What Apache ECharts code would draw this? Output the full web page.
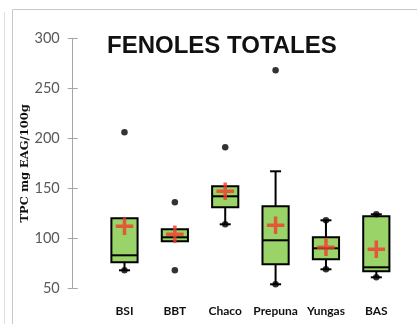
<!DOCTYPE html>
<html>
<head>
<meta charset="utf-8">
<script src="https://cdn.jsdelivr.net/npm/echarts@6/dist/echarts.min.js"></script>
<style>
  html, body { margin: 0; padding: 0; background: #fff; }
  #chart { width: 417px; height: 324px; }
</style>
</head>
<body>
<div id="chart"></div>
<script>
// Total phenolics (TPC, mg EAG/100g) per region
const categories   = ['BSI', 'BBT', 'Chaco', 'Prepuna', 'Yungas', 'BAS'];
const whiskerLow   = [68, 97, 114, 54, 69, 61];
const q1           = [76, 97, 131, 74, 79, 67];
const median       = [83, 101, 142, 98, 90, 71];
const q3           = [120, 109, 152, 132, 101, 122];
const whiskerHigh  = [120, 109, 152, 167, 118, 124];
const meanValues   = [112, 104, 147, 113, 91, 89];
const minValues    = [68, 68, 114, 54, 69, 61];
const maxValues    = [206, 136, 191, 268, 118, 124];
const yTicks       = [50, 100, 150, 200, 250, 300];

const boxData = categories.map((c, i) => [i, whiskerLow[i], q1[i], median[i], q3[i], whiskerHigh[i]]);
const meanData = categories.map((c, i) => [i, meanValues[i]]);
const extremeData = [];
categories.forEach((c, i) => {
  extremeData.push([i, minValues[i]]);
  extremeData.push([i, maxValues[i]]);
});

function renderBox(params, api) {
  const x = api.value(0);
  const pLow = api.coord([x, api.value(1)]);
  const pQ1 = api.coord([x, api.value(2)]);
  const pMed = api.coord([x, api.value(3)]);
  const pQ3 = api.coord([x, api.value(4)]);
  const pHigh = api.coord([x, api.value(5)]);
  const bw = api.size([1, 0])[0] * 0.52;
  const cx = pMed[0];
  const half = bw / 2;
  const cap = 5.5;
  const stroke = { stroke: '#000', lineWidth: 2 };
  const children = [];
  if (pLow[1] - pQ1[1] > 0.5) {
    children.push({ type: 'line', shape: { x1: cx, y1: pQ1[1], x2: cx, y2: pLow[1] }, style: stroke });
    children.push({ type: 'line', shape: { x1: cx - cap, y1: pLow[1], x2: cx + cap, y2: pLow[1] }, style: stroke });
  }
  if (pQ3[1] - pHigh[1] > 0.5) {
    children.push({ type: 'line', shape: { x1: cx, y1: pQ3[1], x2: cx, y2: pHigh[1] }, style: stroke });
    children.push({ type: 'line', shape: { x1: cx - cap, y1: pHigh[1], x2: cx + cap, y2: pHigh[1] }, style: stroke });
  }
  children.push({
    type: 'rect',
    shape: { x: cx - half, y: pQ3[1], width: bw, height: pQ1[1] - pQ3[1] },
    style: { fill: '#9AD468', stroke: '#000', lineWidth: 2 }
  });
  children.push({ type: 'line', shape: { x1: cx - half, y1: pMed[1], x2: cx + half, y2: pMed[1] }, style: stroke });
  return { type: 'group', children: children };
}

const chart = echarts.init(document.getElementById('chart'), null, { renderer: 'canvas' });
chart.setOption({
  animation: false,
  backgroundColor: '#fff',
  title: {
    text: 'FENOLES TOTALES',
    left: 102,
    top: 29,
    textStyle: { fontFamily: 'Liberation Sans', fontWeight: 'bold', fontSize: 24, color: '#111' }
  },
  graphic: [
    { type: 'line', shape: { x1: 12.5, y1: 9.5, x2: 417, y2: 9.5 }, style: { stroke: '#c8c8c8', lineWidth: 1 } },
    { type: 'line', shape: { x1: 12.5, y1: 9.5, x2: 12.5, y2: 324 }, style: { stroke: '#c8c8c8', lineWidth: 1 } },
    { type: 'line', shape: { x1: 4.5, y1: 12, x2: 4.5, y2: 324 }, style: { stroke: '#e0e0e0', lineWidth: 1 } }
  ],
  grid: { left: 99.3, right: 15.5, top: 38.3, bottom: 35.7 },
  xAxis: {
    type: 'category',
    data: categories,
    axisLine: { show: false },
    axisTick: { show: false },
    axisLabel: { interval: 0, margin: 17, fontFamily: 'Lato', fontWeight: 'bold', fontSize: 12, color: '#111' }
  },
  yAxis: [
    {
      type: 'value',
      min: yTicks[0],
      max: yTicks[yTicks.length - 1],
      interval: 50,
      offset: 26.6,
      name: 'TPC mg EAG/100g',
      nameLocation: 'middle',
      nameGap: 42,
      nameMoveOverlap: false,
      nameTextStyle: { fontFamily: 'DejaVu Serif', fontWeight: 'bold', fontSize: 11.5, color: '#111' },
      axisLine: { show: true, lineStyle: { color: '#a6a6a6', width: 1 } },
      axisTick: { show: true, length: 5, lineStyle: { color: '#a6a6a6' } },
      axisLabel: { margin: 13, fontFamily: 'Lato', fontSize: 14.5, color: '#595959' },
      splitLine: { show: false }
    },
    {
      type: 'value',
      min: yTicks[0],
      max: yTicks[yTicks.length - 1],
      interval: 50,
      offset: 26.6,
      position: 'left',
      axisLine: { show: false },
      axisTick: { show: true, inside: true, length: 5, lineStyle: { color: '#a6a6a6' } },
      axisLabel: { show: false },
      splitLine: { show: false }
    }
  ],
  series: [
    {
      type: 'custom',
      renderItem: renderBox,
      data: boxData,
      encode: { x: 0, y: [1, 2, 3, 4, 5] },
      z: 2
    },
    {
      type: 'scatter',
      data: extremeData,
      symbol: 'circle',
      symbolSize: 6.5,
      itemStyle: { color: '#000' },
      z: 3
    },
    {
      type: 'scatter',
      data: meanData,
      symbol: 'path://M7,0H10.5V7H17.5V10.5H10.5V17.5H7V10.5H0V7H7Z',
      symbolSize: [17.5, 17.5],
      itemStyle: { color: '#F23A2C' },
      z: 4
    }
  ]
});
</script>
</body>
</html>
